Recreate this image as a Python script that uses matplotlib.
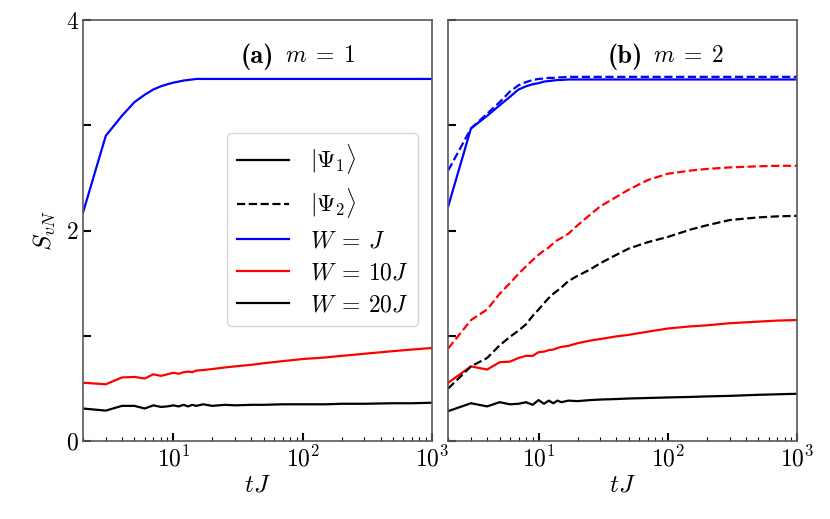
import matplotlib
matplotlib.use('Agg')
import matplotlib.pyplot as plt
from matplotlib.lines import Line2D

plt.rcParams['font.family'] = 'serif'
plt.rcParams['font.serif'] = ['cmr10']
plt.rcParams['mathtext.fontset'] = 'cm'
plt.rcParams['axes.formatter.use_mathtext'] = True

# time grid (tJ)
t = [2, 3, 4, 5, 6, 7, 8, 9, 10, 11, 12, 13, 14, 15, 17, 20, 25, 30, 40, 50,
     70, 100, 150, 200, 300, 500, 700, 1000]

# panel (a), m = 1, |Psi_1>
blue_a = [2.17, 2.90, 3.09, 3.22, 3.29, 3.34, 3.37, 3.39, 3.405, 3.415, 3.425, 3.43, 3.435, 3.44,
          3.44, 3.44, 3.44, 3.44, 3.44, 3.44, 3.44, 3.44, 3.44, 3.44, 3.44, 3.44, 3.44, 3.44]
red_a = [0.555, 0.54, 0.605, 0.61, 0.595, 0.635, 0.62, 0.635, 0.65, 0.64, 0.655, 0.66, 0.655, 0.67,
         0.675, 0.685, 0.70, 0.71, 0.725, 0.74, 0.76, 0.78, 0.795, 0.81, 0.83, 0.855, 0.87, 0.885]
black_a = [0.31, 0.29, 0.335, 0.335, 0.31, 0.34, 0.325, 0.33, 0.34, 0.33, 0.345, 0.33, 0.345, 0.335,
           0.35, 0.335, 0.345, 0.34, 0.345, 0.345, 0.35, 0.35, 0.35, 0.355, 0.355, 0.36, 0.36, 0.365]

# panel (b), m = 2, |Psi_1> (solid)
blue_b1 = [2.23, 2.97, 3.09, 3.19, 3.27, 3.34, 3.37, 3.39, 3.40, 3.415, 3.42, 3.425, 3.43, 3.43,
           3.435, 3.435, 3.435, 3.435, 3.435, 3.435, 3.435, 3.435, 3.435, 3.435, 3.435, 3.435, 3.435, 3.435]
red_b1 = [0.555, 0.71, 0.68, 0.75, 0.755, 0.79, 0.81, 0.81, 0.845, 0.85, 0.865, 0.87, 0.885, 0.895,
          0.905, 0.93, 0.955, 0.97, 0.995, 1.01, 1.04, 1.07, 1.09, 1.10, 1.12, 1.135, 1.145, 1.15]
black_b1 = [0.285, 0.36, 0.33, 0.37, 0.35, 0.355, 0.37, 0.345, 0.39, 0.355, 0.385, 0.36, 0.385, 0.37,
            0.385, 0.38, 0.39, 0.395, 0.40, 0.405, 0.41, 0.415, 0.42, 0.425, 0.43, 0.44, 0.445, 0.45]

# panel (b), m = 2, |Psi_2> (dashed)
blue_b2 = [2.57, 2.97, 3.11, 3.22, 3.32, 3.38, 3.41, 3.43, 3.44, 3.445, 3.45, 3.45, 3.455, 3.455,
           3.46, 3.46, 3.46, 3.46, 3.46, 3.46, 3.46, 3.46, 3.46, 3.46, 3.46, 3.46, 3.46, 3.46]
red_b2 = [0.88, 1.15, 1.25, 1.40, 1.50, 1.59, 1.66, 1.72, 1.77, 1.81, 1.84, 1.88, 1.91, 1.93,
          1.97, 2.05, 2.15, 2.23, 2.32, 2.39, 2.48, 2.54, 2.57, 2.585, 2.60, 2.61, 2.615, 2.615]
black_b2 = [0.50, 0.71, 0.79, 0.91, 0.99, 1.05, 1.11, 1.19, 1.25, 1.31, 1.36, 1.40, 1.43, 1.46,
            1.52, 1.57, 1.63, 1.69, 1.77, 1.83, 1.89, 1.94, 2.01, 2.05, 2.10, 2.125, 2.135, 2.14]

yticks = [0, 1, 2, 3, 4]
ytick_labels = ['0', '', '2', '', '4']

fig = plt.figure(figsize=(8.3, 5.19), dpi=100)
ax1 = fig.add_axes([0.1, 0.15, 0.4205, 0.8115])
ax2 = fig.add_axes([0.54, 0.15, 0.4205, 0.8115], sharey=ax1)

lw = 1.6
ax1.plot(t, blue_a, color='blue', lw=lw)
ax1.plot(t, red_a, color='red', lw=lw)
ax1.plot(t, black_a, color='black', lw=lw)

ax2.plot(t, blue_b1, color='blue', lw=lw)
ax2.plot(t, blue_b2, color='blue', lw=lw, ls='--')
ax2.plot(t, red_b1, color='red', lw=lw)
ax2.plot(t, red_b2, color='red', lw=lw, ls='--')
ax2.plot(t, black_b1, color='black', lw=lw)
ax2.plot(t, black_b2, color='black', lw=lw, ls='--')

for ax in (ax1, ax2):
    ax.set_xscale('log')
    ax.set_xlim(2, 1000)
    ax.set_ylim(0, 4)
    ax.set_yticks(yticks)
    ax.tick_params(which='major', direction='in', length=6, width=1.5, labelsize=17)
    ax.tick_params(which='minor', direction='in', length=3, width=0.8)
    for sp in ax.spines.values():
        sp.set_color('0.35')
        sp.set_linewidth(1.2)
    ax.set_xlabel(r'$tJ$', fontsize=18, labelpad=2)

ax1.set_yticklabels(ytick_labels)
ax2.tick_params(labelleft=False)
ax1.set_ylabel(r'$S_{vN}$', fontsize=18, labelpad=6)

# panel titles: bold letter in cmb10, math part in mathtext
for ax, tag, eq, xa, xb in [(ax1, '(a)', r'$m\;=\;1$', 0.546, 0.578),
                            (ax2, '(b)', r'$m\;=\;2$', 0.558, 0.588)]:
    ax.text(xa, 0.912, tag, transform=ax.transAxes, ha='right', va='center',
            fontsize=19, family='cmb10')
    ax.text(xb, 0.915, eq, transform=ax.transAxes, ha='left', va='center', fontsize=17)

handles = [
    Line2D([], [], color='black', lw=lw),
    Line2D([], [], color='black', lw=lw, ls='--'),
    Line2D([], [], color='blue', lw=lw),
    Line2D([], [], color='red', lw=lw),
    Line2D([], [], color='black', lw=lw),
]
labels = [r'$|\Psi_1\rangle$', r'$|\Psi_2\rangle$', r'$W\:=\:J$', r'$W\:=\:10J$', r'$W\:=\:20J$']
ax1.legend(handles, labels, loc='upper left', bbox_to_anchor=(0.413, 0.732),
           borderaxespad=0, fontsize=17, handlelength=2.2, handletextpad=0.9,
           labelspacing=0.42, borderpad=0.4)

fig.savefig('out.png', dpi=100)
